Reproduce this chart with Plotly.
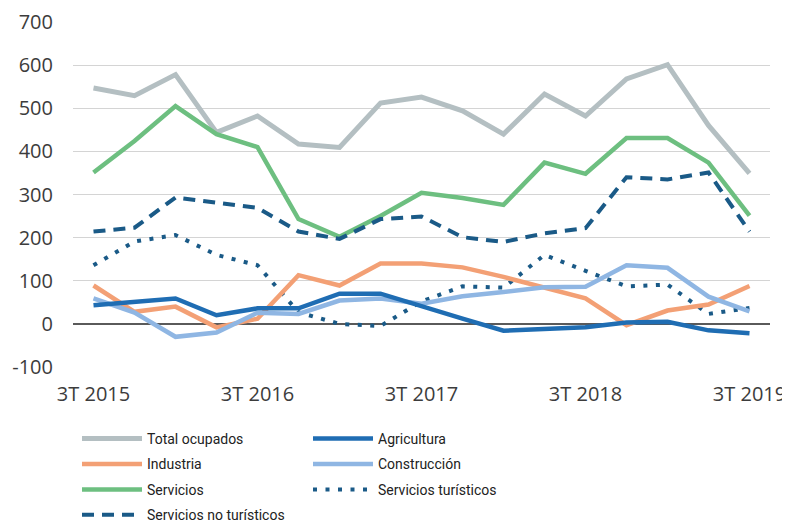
import plotly.graph_objects as go

quarters = ["3T 2015", "4T 2015", "1T 2016", "2T 2016", "3T 2016", "4T 2016",
            "1T 2017", "2T 2017", "3T 2017", "4T 2017", "1T 2018", "2T 2018",
            "3T 2018", "4T 2018", "1T 2019", "2T 2019", "3T 2019"]

total_ocupados = [547, 529, 578, 444, 482, 417, 409, 512, 526, 494, 440, 533, 482, 568, 601, 460, 349]
industria = [89, 28, 40, -8, 12, 113, 89, 140, 140, 131, 109, 85, 59, -3, 31, 45, 88]
servicios = [351, 424, 505, 440, 410, 243, 202, 250, 304, 292, 276, 374, 348, 431, 431, 374, 251]
serv_no_turisticos = [214, 223, 293, 281, 269, 214, 197, 243, 249, 201, 190, 210, 222, 340, 335, 351, 214]
agricultura = [43, 50, 59, 20, 36, 36, 70, 70, 40, 12, -16, -11, -8, 3, 5, -15, -22]
construccion = [59, 26, -30, -20, 26, 23, 54, 59, 47, 64, 74, 85, 86, 136, 130, 63, 29]
serv_turisticos = [136, 191, 206, 160, 136, 27, 0, -5, 52, 87, 84, 160, 123, 87, 91, 23, 37]

y_tick_vals = [-100, 0, 100, 200, 300, 400, 500, 600, 700]
y_tick_text = ["-100", "0", "100", "200", "300", "400", "500", "600", "700"]
x_tick_labels = quarters[::4]

TICK_FONT = dict(family="Open Sans, Roboto, sans-serif", size=20, color="#3c3c3c")
LEG_FONT = dict(family="Liberation Sans Narrow, Roboto, sans-serif", size=14, color="#222222")

series = [
    ("Total ocupados", total_ocupados, "#b4bfc2", "solid", 5, "legend"),
    ("Industria", industria, "#f3a075", "solid", 4.5, "legend"),
    ("Servicios", servicios, "#6dbf80", "solid", 4.5, "legend"),
    ("Servicios no turísticos", serv_no_turisticos, "#1a5a87", "12px,8px", 4, "legend"),
    ("Agricultura", agricultura, "#1f6db3", "solid", 4.5, "legend2"),
    ("Construcción", construccion, "#8fb6e3", "solid", 4.5, "legend2"),
    ("Servicios turísticos", serv_turisticos, "#1a5a87", "4px,8.5px", 4, "legend2"),
]

draw_order = [0, 2, 3, 6, 1, 5, 4]

fig = go.Figure()
for i in draw_order:
    name, vals, color, dash, width, leg = series[i]
    fig.add_trace(go.Scatter(
        x=quarters, y=vals, name=name, mode="lines",
        line=dict(color=color, dash=dash, width=width),
        legend=leg, legendgroup=name, legendrank=i + 1,
    ))

# the page body adds an 8px offset; the figure is sized to fill the rest of the window
OFF = 8
FIG_W, FIG_H = 790 - OFF, 525 - OFF
PLOT_L, PLOT_R, PLOT_T, PLOT_B = 73 - OFF, 770 - OFF, 22 - OFF, 367 - OFF
PW, PH = PLOT_R - PLOT_L, PLOT_B - PLOT_T

def px_x(p):
    return (p - OFF - PLOT_L) / PW

def px_y(p):
    return (PLOT_B - (p - OFF)) / PH

fig.update_layout(
    width=FIG_W, height=FIG_H,
    margin=dict(l=PLOT_L, r=FIG_W - PLOT_R, t=PLOT_T, b=FIG_H - PLOT_B, autoexpand=False),
    paper_bgcolor="white", plot_bgcolor="white",
    showlegend=True,
    xaxis=dict(
        type="category", categoryorder="array", categoryarray=quarters,
        range=[-0.5, len(quarters) - 0.5], automargin=False,
        tickmode="array", tickvals=x_tick_labels, ticktext=x_tick_labels,
        showgrid=False, zeroline=False, showline=False, ticks="",
        tickfont=TICK_FONT, ticklabelstandoff=13, ticklabeloverflow="allow",
    ),
    xaxis2=dict(
        overlaying="x", anchor="free",
        position=(0 - y_tick_vals[0]) / (y_tick_vals[-1] - y_tick_vals[0]),
        type="linear", range=[-0.5, len(quarters) - 0.5], automargin=False,
        tickmode="array", tickvals=[k - 0.5 for k in range(0, len(quarters), 4)],
        ticks="inside", ticklen=5, tickwidth=1.2, tickcolor="#555555",
        showticklabels=False, showgrid=False, zeroline=False, showline=False,
        layer="below traces",
    ),
    yaxis=dict(
        range=[y_tick_vals[0], y_tick_vals[-1]], automargin=False,
        tickmode="array", tickvals=y_tick_vals, ticktext=y_tick_text,
        showgrid=True, gridcolor="#d4d4d4", gridwidth=1,
        zeroline=True, zerolinecolor="#5a5a5a", zerolinewidth=1.5,
        showline=False, ticks="", tickfont=TICK_FONT, ticklabelstandoff=19,
        ticklabeloverflow="allow",
    ),
    legend=dict(
        x=px_x(77), xanchor="left", y=px_y(423), yanchor="top",
        orientation="v", font=LEG_FONT, bgcolor="rgba(0,0,0,0)",
        itemwidth=60, tracegroupgap=4.2, traceorder="grouped", maxheight=1,
    ),
    legend2=dict(
        x=px_x(308), xanchor="left", y=px_y(423), yanchor="top",
        orientation="v", font=LEG_FONT, bgcolor="rgba(0,0,0,0)",
        itemwidth=60, tracegroupgap=4.2, traceorder="grouped", maxheight=1,
    ),
)

fig.write_html("out.html")
